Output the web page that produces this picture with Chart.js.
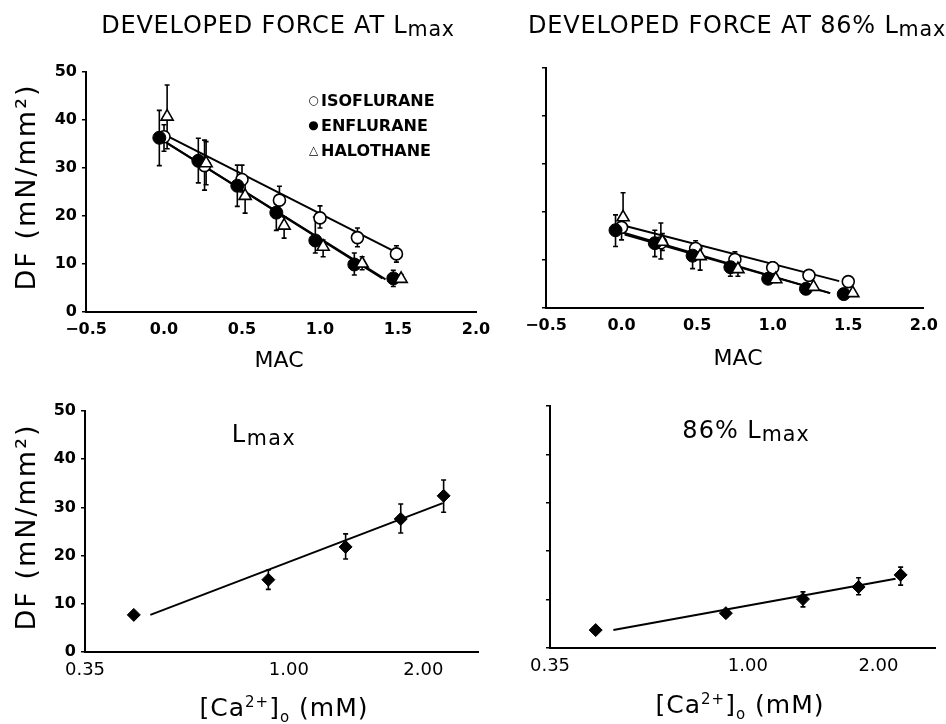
<!DOCTYPE html>
<html><head><meta charset="utf-8">
<script src="https://cdn.jsdelivr.net/npm/chart.js@4/dist/chart.umd.min.js"></script>
<style>
html,body{margin:0;padding:0;background:#fff;}
body{width:946px;height:724px;position:relative;overflow:hidden;font-family:"DejaVu Sans",sans-serif;color:#000;}
canvas{position:absolute;left:0;top:0;}
.t{position:absolute;white-space:nowrap;line-height:1;}
.sub{font-size:0.86em;position:relative;top:0.16em;}
.sym{display:inline-block;width:15px;text-align:center;font-size:12px;position:relative;top:-2px;}
</style></head><body>
<canvas id="cTL" width="946" height="724"></canvas>
<canvas id="cTR" width="946" height="724"></canvas>
<canvas id="cBL" width="946" height="724"></canvas>
<canvas id="cBR" width="946" height="724"></canvas>
<script>
// ---------------- DATA ----------------
// tick labels
const macTicks = [-0.5, 0.0, 0.5, 1.0, 1.5, 2.0];
const dfTicks = [0, 10, 20, 30, 40, 50];
const caTicks = [0.35, 1.00, 2.00];

// Developed force at Lmax vs MAC
const isoX_L  = [0.00, 0.26, 0.50, 0.74, 1.00, 1.24, 1.49];
const isoY_L  = [36.5, 30.5, 27.6, 23.3, 19.6, 15.5, 12.1];
const isoHi_L = [39.0, 35.8, 30.6, 26.2, 22.1, 17.5, 13.8];
const isoLo_L = [33.5, 25.4, 25.0, 21.0, 17.5, 13.6, 10.4];
const enfX_L  = [-0.03, 0.22, 0.47, 0.72, 0.97, 1.22, 1.47];
const enfY_L  = [36.3, 31.5, 26.3, 20.7, 14.9, 9.9, 7.0];
const enfHi_L = [42.0, 36.2, 30.6, 22.5, 19.8, 12.3, 8.7];
const enfLo_L = [30.5, 26.9, 22.0, 17.0, 12.3, 7.7, 5.3];
const halX_L  = [0.02, 0.27, 0.52, 0.77, 1.02, 1.27, 1.52];
const halY_L  = [40.7, 31.0, 24.2, 18.0, 13.6, 10.1, 6.9];
const halHi_L = [47.3, 35.5, 28.2, 19.8, 15.0, 11.5, 7.8];
const halLo_L = [34.0, 26.5, 20.6, 15.4, 11.5, 8.8, 6.2];
const isoFitX_L = [0.00, 1.48], isoFitY_L = [37.0, 12.6];
const enfFitX_L = [-0.02, 1.40], enfFitY_L = [36.0, 7.0];
const halFitX_L = [0.02, 1.42], halFitY_L = [35.2, 6.8];

// Developed force at 86% Lmax vs MAC
const isoX_86  = [0.00, 0.26, 0.49, 0.75, 1.00, 1.24, 1.50];
const isoY_86  = [16.8, 13.6, 12.4, 10.1, 8.4, 6.8, 5.5];
const isoHi_86 = [18.5, 17.7, 14.0, 11.7, 9.6, 7.5, 6.0];
const isoLo_86 = [14.2, 10.2, 11.0, 9.0, 7.5, 6.2, 5.0];
const enfX_86  = [-0.04, 0.22, 0.47, 0.72, 0.97, 1.22, 1.47];
const enfY_86  = [16.2, 13.5, 10.9, 8.5, 6.1, 4.0, 2.9];
const enfHi_86 = [19.4, 16.2, 12.5, 9.6, 7.0, 4.6, 3.4];
const enfLo_86 = [12.8, 10.7, 8.2, 6.6, 5.3, 3.5, 2.4];
const halX_86  = [0.01, 0.27, 0.52, 0.77, 1.02, 1.27, 1.53];
const halY_86  = [18.9, 13.8, 10.8, 8.1, 6.0, 4.4, 3.1];
const halHi_86 = [24.0, 15.5, 12.5, 9.0, 6.8, 5.0, 3.5];
const halLo_86 = [16.0, 12.0, 7.9, 6.6, 5.3, 3.9, 2.7];
const isoFitX_86 = [0.00, 1.44], isoFitY_86 = [17.3, 5.6];
const enfFitX_86 = [-0.02, 1.38], enfFitY_86 = [16.0, 3.1];
const halFitX_86 = [0.02, 1.38], halFitY_86 = [15.3, 3.1];

// Developed force vs [Ca2+]o
const caX_L  = [0.45, 0.90, 1.34, 1.78, 2.22];
const caY_L  = [7.7, 15.0, 21.8, 27.6, 32.4];
const caHi_L = [7.7, 17.0, 24.5, 30.7, 35.7];
const caLo_L = [7.7, 13.0, 19.3, 24.7, 29.0];
const caFitX_L = [0.49, 2.21], caFitY_L = [7.7, 30.9];

const caX_86  = [0.446, 0.89, 1.34, 1.80, 2.25];
const caY_86  = [3.7, 7.2, 10.1, 12.6, 15.1];
const caHi_86 = [3.7, 7.8, 11.6, 14.5, 16.7];
const caLo_86 = [3.7, 6.5, 8.5, 11.0, 13.0];
const caFitX_86 = [0.49, 2.19], caFitY_86 = [3.7, 14.3];

// ---------------- HELPERS ----------------
Chart.defaults.font.family = '"DejaVu Sans", sans-serif';
Chart.defaults.color = '#000';
const pts = (xs, ys) => xs.map((x, i) => ({x: x, y: ys[i]}));

const errorBars = {
  id: 'errorBars',
  beforeDatasetsDraw(chart) {
    const ctx = chart.ctx, xs = chart.scales.x, ys = chart.scales.y;
    ctx.save();
    ctx.strokeStyle = '#000';
    ctx.lineWidth = 1.6;
    chart.data.datasets.forEach(ds => {
      if (!ds.errHi) return;
      ds.data.forEach((p, i) => {
        const px = xs.getPixelForValue(p.x);
        const yh = ys.getPixelForValue(ds.errHi[i]);
        const yl = ys.getPixelForValue(ds.errLo[i]);
        if (Math.abs(yh - yl) < 1) return;
        ctx.beginPath();
        ctx.moveTo(px, yh); ctx.lineTo(px, yl);
        ctx.moveTo(px - 2.5, yh); ctx.lineTo(px + 2.5, yh);
        ctx.moveTo(px - 2.5, yl); ctx.lineTo(px + 2.5, yl);
        ctx.stroke();
      });
    });
    ctx.restore();
  }
};

const styleIso = {pointStyle: 'circle', pointRadius: 6, pointBackgroundColor: '#fff', pointBorderColor: '#000', pointBorderWidth: 1.6};
const styleEnf = {pointStyle: 'circle', pointRadius: 6.5, pointBackgroundColor: '#000', pointBorderColor: '#000', pointBorderWidth: 1};
const styleHal = {pointStyle: 'triangle', pointRadius: 7, pointBackgroundColor: '#fff', pointBorderColor: '#000', pointBorderWidth: 1.6};
const styleDia = {pointStyle: 'rectRot', pointRadius: 6.5, pointBackgroundColor: '#000', pointBorderColor: '#000', pointBorderWidth: 1};

function pointSet(xs, ys, hi, lo, style, ord) {
  return Object.assign({data: pts(xs, ys), showLine: false, errHi: hi, errLo: lo, order: ord}, style);
}
function fitLine(xs, ys) {
  return {data: pts(xs, ys), showLine: true, pointRadius: 0, borderColor: '#000', borderWidth: 2, fill: false, order: 10};
}

const tickFont = {family: '"DejaVu Sans", sans-serif', size: 16, weight: 'bold'};
const caTickFont = {family: '"DejaVu Sans", sans-serif', size: 18, weight: 'normal'};

function yScale(showLabels) {
  return {
    type: 'linear', min: 0, max: 50,
    afterBuildTicks: ax => { ax.ticks = dfTicks.map(v => ({value: v})); },
    afterFit: s => { s.width = 40; },
    border: {display: true, color: '#000', width: 2},
    grid: {drawOnChartArea: false, drawTicks: true, tickLength: 4, color: '#000', lineWidth: 1.5},
    ticks: {display: showLabels, font: tickFont, color: '#000', padding: 5}
  };
}
function macScale() {
  return {
    type: 'linear', min: -0.5, max: 2.0,
    afterBuildTicks: ax => { ax.ticks = macTicks.map(v => ({value: v})); },
    afterFit: s => { s.height = 30; },
    border: {display: true, color: '#000', width: 2},
    grid: {drawOnChartArea: false, drawTicks: false, color: '#000'},
    ticks: {font: tickFont, color: '#000', padding: 8, maxRotation: 0,
      callback: v => (v < 0 ? '\u2212' + Math.abs(v).toFixed(1) : v.toFixed(1))}
  };
}
function caScale(max) {
  return {
    type: 'logarithmic', min: 0.35, max: max,
    afterBuildTicks: ax => { ax.ticks = caTicks.map(v => ({value: v})); },
    afterFit: s => { s.height = 30; },
    border: {display: true, color: '#000', width: 2},
    grid: {drawOnChartArea: false, drawTicks: false, color: '#000'},
    ticks: {font: caTickFont, color: '#000', padding: 8, maxRotation: 0, autoSkip: false,
      callback: v => Number(v).toFixed(2)}
  };
}

function makeChart(id, pad, xs, showY, datasets) {
  new Chart(document.getElementById(id), {
    type: 'scatter',
    data: {datasets: datasets},
    options: {
      responsive: false, animation: false, devicePixelRatio: 1,
      layout: {padding: pad},
      plugins: {legend: {display: false}, tooltip: {enabled: false}},
      scales: {x: xs, y: yScale(showY)}
    },
    plugins: [errorBars]
  });
}

// ---------------- CHARTS ----------------
makeChart('cTL', {left: 46, right: 470, top: 72, bottom: 382}, macScale(), true, [
  pointSet(halX_L, halY_L, halHi_L, halLo_L, styleHal, 1),
  pointSet(enfX_L, enfY_L, enfHi_L, enfLo_L, styleEnf, 2),
  pointSet(isoX_L, isoY_L, isoHi_L, isoLo_L, styleIso, 3),
  fitLine(isoFitX_L, isoFitY_L), fitLine(enfFitX_L, enfFitY_L), fitLine(halFitX_L, halFitY_L)
]);
makeChart('cTR', {left: 506, right: 16, top: 68, bottom: 386}, macScale(), false, [
  pointSet(halX_86, halY_86, halHi_86, halLo_86, styleHal, 1),
  pointSet(enfX_86, enfY_86, enfHi_86, enfLo_86, styleEnf, 2),
  pointSet(isoX_86, isoY_86, isoHi_86, isoLo_86, styleIso, 3),
  fitLine(isoFitX_86, isoFitY_86), fitLine(enfFitX_86, enfFitY_86), fitLine(halFitX_86, halFitY_86)
]);
makeChart('cBL', {left: 45, right: 468, top: 411, bottom: 42}, caScale(2.65), true, [
  pointSet(caX_L, caY_L, caHi_L, caLo_L, styleDia, 1),
  fitLine(caFitX_L, caFitY_L)
]);
makeChart('cBR', {left: 510, right: 11, top: 406, bottom: 46}, caScale(2.70), false, [
  pointSet(caX_86, caY_86, caHi_86, caLo_86, styleDia, 1),
  fitLine(caFitX_86, caFitY_86)
]);

// ---------------- TEXT ----------------
function label(html, x, baseline, fs, align, extra) {
  const d = document.createElement('div');
  d.className = 't';
  d.innerHTML = html;
  d.style.fontSize = fs + 'px';
  d.style.top = (baseline - 0.846 * fs) + 'px';
  if (align === 'center') { d.style.left = (x - 300) + 'px'; d.style.width = '600px'; d.style.textAlign = 'center'; }
  else d.style.left = x + 'px';
  Object.assign(d.style, extra || {});
  document.body.appendChild(d);
}
function vlabel(html, cx, cy, fs, extra) {
  const d = document.createElement('div');
  d.className = 't';
  d.innerHTML = html;
  d.style.fontSize = fs + 'px';
  d.style.left = cx + 'px';
  d.style.top = cy + 'px';
  d.style.transform = 'translate(-50%,-50%) rotate(-90deg)';
  Object.assign(d.style, extra || {});
  document.body.appendChild(d);
}
const sp = {letterSpacing: '0.8px'};
label('DEVELOPED FORCE AT L<span class="sub">max</span>', 278, 33, 24, 'center', sp);
label('DEVELOPED FORCE AT 86% L<span class="sub">max</span>', 737, 33, 24, 'center', sp);
label('MAC', 279, 368, 22, 'center');
label('MAC', 738, 366, 22, 'center');
vlabel('DF (mN/mm\u00B2)', 25, 187, 27, {letterSpacing: '2px'});
vlabel('DF (mN/mm\u00B2)', 25, 527, 27, {letterSpacing: '2px'});
label('L<span class="sub">max</span>', 264, 442, 24, 'center', {letterSpacing: '1.5px'});
label('86% L<span class="sub">max</span>', 746, 438, 24, 'center', {letterSpacing: '1px'});
label('[Ca<sup style="font-size:0.6em">2+</sup>]<sub style="font-size:0.6em">o</sub> (mM)', 284, 716, 25, 'center', {letterSpacing: '1px'});
label('[Ca<sup style="font-size:0.6em">2+</sup>]<sub style="font-size:0.6em">o</sub> (mM)', 740, 713, 25, 'center', {letterSpacing: '1px'});
const lg = {fontWeight: 'bold'};
label('<span class="sym">\u25CB</span>ISOFLURANE', 306, 107, 16, 'left', lg);
label('<span class="sym">\u25CF</span>ENFLURANE', 306, 132, 16, 'left', lg);
label('<span class="sym">\u25B3</span>HALOTHANE', 306, 157, 16, 'left', lg);
</script>
</body></html>
